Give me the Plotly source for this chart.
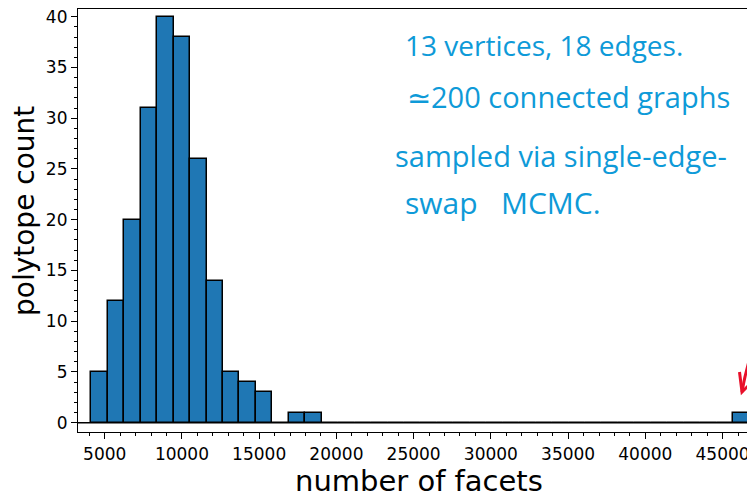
import plotly.graph_objects as go

# Histogram data
bin_start = 4140
bin_width = 1065
counts = [5, 12, 20, 31, 40, 38, 26, 14, 5, 4, 3, 0, 1, 1,
          0, 0, 0, 0, 0, 0, 0, 0, 0, 0, 0, 0, 0, 0, 0, 0,
          0, 0, 0, 0, 0, 0, 0, 0, 0, 1]
x_ticks = [5000, 10000, 15000, 20000, 25000, 30000, 35000, 40000, 45000]
y_ticks = [0, 5, 10, 15, 20, 25, 30, 35, 40]
note_lines = ["13 vertices, 18 edges.", "≃200 connected graphs",
              "sampled via single-edge-", "swap   MCMC."]

centers = [bin_start + (i + 0.5) * bin_width for i in range(len(counts))]

# The page body has an 8px margin, so the figure is 8px smaller than the window.
OFF = 8
W, H = 755 - OFF, 497 - OFF
ML, MR, MT, MB = 70, 0, 1, 65
PW, PH = W - ML - MR, H - MT - MB


def px(x):
    return (x - OFF - ML) / PW


def py(y):
    return 1 - (y - OFF - MT) / PH


fig = go.Figure()
fig.add_trace(go.Bar(
    x=centers, y=counts, width=[bin_width] * len(counts),
    marker=dict(color="#1f77b4", line=dict(color="black", width=1.5)),
    showlegend=False,
))

font_family = "DejaVu Sans"
fig.update_layout(
    width=W, height=H,
    margin=dict(l=ML, r=MR, t=MT, b=MB, autoexpand=False),
    plot_bgcolor="white", paper_bgcolor="white",
    font=dict(family=font_family, color="black"),
    bargap=0,
)
fig.update_xaxes(
    range=[3271, 47099], tickvals=x_ticks, ticktext=[str(v) for v in x_ticks],
    automargin=False, ticklabeloverflow="allow",
    showgrid=False, zeroline=False, showline=True, linecolor="black", linewidth=1.2,
    mirror=True, ticks="outside", ticklen=6, tickwidth=1.2, tickcolor="black",
    tickfont=dict(size=17),
    minor=dict(dtick=1000, tick0=0, ticks="outside", ticklen=3, tickcolor="black", tickwidth=1),
)
fig.update_yaxes(
    range=[-0.92, 40.76], tickvals=y_ticks, ticktext=[str(v) for v in y_ticks],
    automargin=False, ticklabeloverflow="allow",
    showgrid=False, zeroline=False, showline=True, linecolor="black", linewidth=1.2,
    ticks="outside", ticklen=6, tickwidth=1.2, tickcolor="black",
    tickfont=dict(size=17),
    minor=dict(dtick=1, tick0=0, ticks="outside", ticklen=3, tickcolor="black", tickwidth=1),
)
# horizontal baseline at y = 0
fig.add_shape(type="line", xref="paper", x0=0, x1=1, yref="y", y0=0, y1=0,
              line=dict(color="black", width=1.5))

# axis titles
fig.add_annotation(text="number of facets", xref="paper", yref="paper",
                   x=px(419), y=py(481), xanchor="center", yanchor="middle",
                   showarrow=False, font=dict(size=29))
fig.add_annotation(text="polytope count", xref="paper", yref="paper",
                   x=px(24), y=py(211), xanchor="center", yanchor="middle",
                   textangle=-90, showarrow=False, font=dict(size=28))

# handwritten-style note
note_y = [45, 97, 155, 202]
note_x = [403, 405, 393, 403]
note_size = [28, 29, 29, 30]
for txt, x0, y0, sz in zip(note_lines, note_x, note_y, note_size):
    fig.add_annotation(
        text=txt, xref="paper", yref="paper",
        x=px(x0), y=py(y0),
        xanchor="left", yanchor="middle", showarrow=False,
        font=dict(family="Open Sans", size=sz, color="#0e9ad8"),
    )

# red hand-drawn arrow pointing at the outlier bar
shaft = f"M {px(750)},{py(358)} Q {px(745)},{py(374)} {px(742)},{py(392)}"
head = f"M {px(739.5)},{py(372)} L {px(742)},{py(392)} L {px(749)},{py(385)}"
for path in (shaft, head):
    fig.add_shape(type="path", xref="paper", yref="paper", path=path,
                  line=dict(color="#e8102a", width=3))

fig.write_html("out.html")
